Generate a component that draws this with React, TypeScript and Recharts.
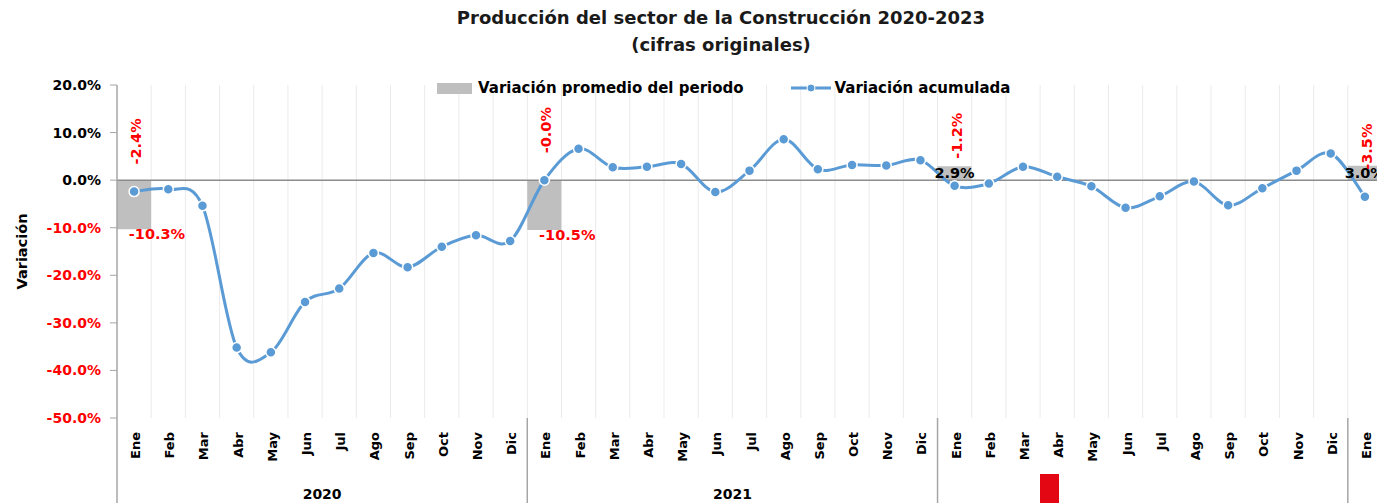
import React from "react";
import {
  Bar,
  CartesianGrid,
  ComposedChart,
  LabelList,
  Legend,
  Line,
  ReferenceLine,
  XAxis,
  YAxis,
} from "recharts";

const monthNames = ["Ene", "Feb", "Mar", "Abr", "May", "Jun", "Jul", "Ago", "Sep", "Oct", "Nov", "Dic"];
const months = [...monthNames, ...monthNames, ...monthNames, "Ene"];
const yearLabels = ["2020", "2021"];

// variación acumulada (%)
const accumulated = [
  -2.4, -1.9, -5.4, -35.2, -36.2, -25.6, -22.8, -15.3, -18.3, -14.0, -11.6, -12.8,
  -0.02, 6.6, 2.7, 2.8, 3.4, -2.5, 2.0, 8.6, 2.3, 3.2, 3.1, 4.2,
  -1.2, -0.7, 2.8, 0.7, -1.3, -5.8, -3.4, -0.3, -5.3, -1.7, 2.0, 5.6,
  -3.5,
];

// variación promedio del periodo (%), one per year, drawn on Ene
const periodAvgByYear = [-10.3, -10.5, 2.9, 3.0];

const yTicks = [20, 10, 0, -10, -20, -30, -40, -50];

const FONT = "DejaVu Sans";
const BLUE = "#5B9BD5";
const RED = "#FF0000";

const data = months.map((m, i) => ({
  month: m,
  acc: accumulated[i],
  avg: i % 12 === 0 ? periodAvgByYear[i / 12] : null,
}));

const pct = (v: number) => `${v.toFixed(1)}%`;

// Excel-like smoothed line (cardinal / catmull-rom bezier)
const smoothCurve = (context: any) => {
  let pts: number[][] = [];
  return {
    areaStart() {},
    areaEnd() {},
    lineStart() {
      pts = [];
    },
    point(x: number, y: number) {
      pts.push([+x, +y]);
    },
    lineEnd() {
      if (!pts.length) return;
      context.moveTo(pts[0][0], pts[0][1]);
      for (let i = 0; i < pts.length - 1; i++) {
        const p0 = pts[i - 1] || pts[i];
        const p1 = pts[i];
        const p2 = pts[i + 1];
        const p3 = pts[i + 2] || p2;
        context.bezierCurveTo(
          p1[0] + (p2[0] - p0[0]) / 6,
          p1[1] + (p2[1] - p0[1]) / 6,
          p2[0] - (p3[0] - p1[0]) / 6,
          p2[1] - (p3[1] - p1[1]) / 6,
          p2[0],
          p2[1]
        );
      }
    },
  };
};

const YTick = (props: any) => {
  const { x, y, payload } = props;
  const v = payload.value;
  return (
    <text
      x={x}
      y={y}
      dy={5}
      textAnchor="end"
      fontFamily={FONT}
      fontWeight="bold"
      fontSize={14}
      fill={v < 0 ? RED : "#000"}
    >
      {pct(v)}
    </text>
  );
};

const MonthTick = (props: any) => {
  const { x, y, payload, index, width } = props;
  const band = width / months.length;
  const i = index ?? payload.index;
  const group = Math.floor(i / 12);
  const left = x - band / 2;
  return (
    <g>
      <text
        x={x + 6}
        y={y}
        transform={`rotate(-90, ${x + 6}, ${y})`}
        textAnchor="end"
        fontFamily={FONT}
        fontWeight="bold"
        fontSize={13}
        fill="#000"
      >
        {payload.value}
      </text>
      {i % 12 === 0 && (
        <line x1={left} x2={left} y1={y - 14} y2={y + 80} stroke="#A6A6A6" strokeWidth={1.5} />
      )}
      {i % 12 === 0 && group < yearLabels.length && (
        <text
          x={left + band * 6}
          y={y + 67}
          textAnchor="middle"
          fontFamily={FONT}
          fontWeight="bold"
          fontSize={14}
          fill="#000"
        >
          {yearLabels[group]}
        </text>
      )}
    </g>
  );
};

const BarValueLabel = (props: any) => {
  const { x, y, width, height, value } = props;
  if (value == null) return null;
  const cx = x + width / 2;
  if (value < 0) {
    const end = Math.max(y, y + height);
    return (
      <text x={cx + 23} y={end + 10} textAnchor="middle" fontFamily={FONT} fontWeight="bold" fontSize={14.5} fill={RED}>
        {pct(value)}
      </text>
    );
  }
  const top = Math.min(y, y + height);
  return (
    <text x={cx} y={top + 12} textAnchor="middle" fontFamily={FONT} fontWeight="bold" fontSize={14.5} fill="#000">
      {pct(value)}
    </text>
  );
};

const LineValueLabel = (props: any) => {
  const { x, y, value, index } = props;
  if (data[index]?.avg == null) return null;
  const ax = x + 7;
  const ay = y - 27;
  return (
    <text
      x={ax}
      y={ay}
      transform={`rotate(-90, ${ax}, ${ay})`}
      textAnchor="start"
      fontFamily={FONT}
      fontWeight="bold"
      fontSize={14.5}
      fill={RED}
    >
      {pct(value)}
    </text>
  );
};

const LegendContent = () => (
  <div style={{ display: "flex", alignItems: "center", fontFamily: FONT, fontWeight: "bold", fontSize: 15, color: "#000", whiteSpace: "nowrap" }}>
    <span style={{ display: "inline-block", width: 35, height: 11, background: "#BFBFBF", marginRight: 6 }} />
    <span>Variación promedio del periodo</span>
    <svg width={40} height={12} style={{ marginLeft: 47, marginRight: 4 }}>
      <line x1={0} x2={40} y1={6} y2={6} stroke={BLUE} strokeWidth={3} />
      <circle cx={20} cy={6} r={4} fill={BLUE} stroke="#fff" strokeWidth={1} />
    </svg>
    <span>Variación acumulada</span>
  </div>
);

export default function App() {
  return (
    <div
      style={{
        position: "absolute",
        left: 0,
        top: 0,
        width: 1377,
        height: 503,
        overflow: "hidden",
        background: "#fff",
        fontFamily: FONT,
      }}
    >
      <div
        style={{
          position: "absolute",
          top: 4,
          left: 0,
          width: 1442,
          textAlign: "center",
          fontSize: 18,
          fontWeight: "bold",
          lineHeight: "27px",
          color: "#1a1a1a",
          zIndex: 2,
        }}
      >
        Producción del sector de la Construcción 2020-2023
        <br />
        (cifras originales)
      </div>
      <ComposedChart
        width={1400}
        height={503}
        data={data}
        margin={{ top: 85, right: 18, bottom: 0, left: 0 }}
        barCategoryGap={0}
        barGap={0}
      >
        <CartesianGrid
          horizontal={false}
          stroke="#EBEBEB"
          verticalCoordinatesGenerator={({ offset }: any) =>
            months.map((_, i) => offset.left + ((i + 1) * offset.width) / months.length)
          }
        />
        <XAxis
          dataKey="month"
          interval={0}
          axisLine={false}
          tickLine={false}
          tickSize={0}
          tickMargin={14}
          height={85}
          tick={<MonthTick />}
        />
        <YAxis
          domain={[-50, 20]}
          ticks={yTicks}
          width={117}
          interval={0}
          axisLine={{ stroke: "#A6A6A6", strokeWidth: 1.5 }}
          tickLine={{ stroke: "#A6A6A6" }}
          tickSize={7}
          tickMargin={9}
          tick={<YTick />}
          label={({ viewBox }: any) => {
            const cx = 22;
            const cy = viewBox.y + viewBox.height / 2;
            return (
              <text
                x={cx}
                y={cy}
                transform={`rotate(-90, ${cx}, ${cy})`}
                textAnchor="middle"
                dominantBaseline="central"
                fontFamily={FONT}
                fontWeight="bold"
                fontSize={14.5}
                fill="#000"
              >
                Variación
              </text>
            );
          }}
        />
        <Legend
          layout="vertical"
          align="center"
          verticalAlign="middle"
          wrapperStyle={{ top: 79, left: 437, width: 700 }}
          content={<LegendContent />}
        />
        <ReferenceLine y={0} stroke="#8C8C8C" strokeWidth={1.5} />
        <Bar dataKey="avg" name="Variación promedio del periodo" fill="#BFBFBF" isAnimationActive={false}>
          <LabelList dataKey="avg" content={<BarValueLabel />} />
        </Bar>
        <Line
          dataKey="acc"
          name="Variación acumulada"
          type={smoothCurve as any}
          stroke={BLUE}
          strokeWidth={3}
          dot={{ r: 5, fill: BLUE, stroke: "#fff", strokeWidth: 1.5 }}
          activeDot={false}
          isAnimationActive={false}
        >
          <LabelList dataKey="acc" content={<LineValueLabel />} />
        </Line>
      </ComposedChart>
      <div style={{ position: "absolute", left: 1040, top: 474, width: 19, height: 29, background: "#E30613" }} />
    </div>
  );
}
